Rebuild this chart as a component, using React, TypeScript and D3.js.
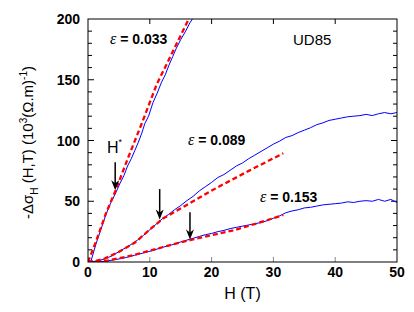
import React from 'react';
import * as d3 from 'd3';

// measured curves, eps = 0.033
const h033 = [0, 0.5, 1.3, 2.1, 2.9, 3.7, 4.5, 5.2, 5.8, 6.4, 7.0, 7.6, 8.1, 8.7, 9.2, 9.8, 10.5, 11.2, 11.9, 12.5, 13.1, 13.7, 14.3, 15.0, 15.8, 16.5, 17.3, 18.0];
const v033 = [0, 1, 15, 27, 39, 49, 57, 65, 71, 79, 85, 92, 98, 106, 114, 120, 131, 139, 148, 154, 162, 169, 176, 183, 190, 197, 203, 210];
// eps = 0.089
const h089 = [0, 1, 2, 3, 4, 5, 6, 7, 8, 9, 10, 11, 12, 13, 14, 15, 16, 17, 18, 19, 20, 21, 22, 23, 24, 25, 26, 27, 28, 29, 30, 31, 32, 33, 34, 35, 36, 37, 38, 39, 40, 41, 42, 43, 44, 45, 46, 47, 48, 49, 50];
const v089 = [0, 0.5, 1.5, 3, 5.5, 8.5, 11.5, 14.5, 18, 22, 26.5, 31, 35.5, 39, 43, 46.5, 50.5, 54, 58.5, 62, 65.5, 69.5, 72, 75.5, 79, 81.5, 85, 88, 91, 94, 97, 99.5, 102.5, 104, 106.5, 108.5, 110.5, 113, 114.5, 116.5, 117.5, 118.5, 119.5, 120, 120.5, 121.5, 120.5, 122, 123, 122, 123];
// eps = 0.153
const h153 = [0, 1.8, 3, 4.5, 6, 7.5, 9, 10.5, 12, 13.5, 15, 16, 17, 18, 19, 20, 21, 22, 23, 24, 25, 26, 27, 28, 29, 30, 31, 32, 33, 34, 35, 36, 37, 38, 39, 40, 41, 42, 43, 44, 45, 46, 47, 48, 49, 50];
const v153 = [0, 0, 0.8, 2, 3.5, 5.5, 7.5, 9.5, 12, 14, 16.5, 18, 19.5, 21, 22.5, 23.5, 25, 26, 27.5, 28.5, 29.5, 30.5, 31.5, 32.5, 34, 36, 38, 40.5, 42, 43, 44.5, 45, 46, 47, 47.5, 48, 48.5, 49.5, 49, 50, 50.5, 50, 51.5, 50, 51.5, 49];

// fits (red dashed)
const hFit033 = [0, 1.3, 2.9, 4.4, 6.5, 8.7, 11.1, 13.8, 16.3, 17.0];
const vFit033 = [0, 17, 40, 58, 86, 114, 146, 174, 200, 207];
const hFit089 = [0, 1, 2.75, 4.9, 7.6, 10.3, 12.2, 16, 20.8, 26, 31.6];
const vFit089 = [0, 0.5, 3, 8, 16, 28, 36, 47, 61, 75, 89.5];
const hFit153 = [0, 3, 6.8, 10, 13, 16.5, 20, 23.5, 27.5, 31.6];
const vFit153 = [0, 1, 5, 9.3, 13.5, 18, 22, 26, 32, 38.7];

// H* arrows
const arrowH = [4.4, 11.6, 16.5];
const arrowTip = [59, 35, 18.5];
const arrowTail = [82, 60, 41];

const xTicks = [0, 10, 20, 30, 40, 50];
const yTicks = [0, 50, 100, 150, 200];
const yMinor = d3.range(0, 201, 10);

const W = 414;
const H = 312;
const m = { left: 88, right: 397, top: 19, bottom: 262 };

const x = d3.scaleLinear().domain([0, 50]).range([m.left, m.right]);
const y = d3.scaleLinear().domain([0, 200]).range([m.bottom, m.top]);

const toPts = (hs: number[], vs: number[]) => hs.map((h, i) => [h, vs[i]] as [number, number]);
const line = d3.line<[number, number]>().x(d => x(d[0])).y(d => y(d[1]));

const blue = [toPts(h033, v033), toPts(h089, v089), toPts(h153, v153)];
const red = [toPts(hFit033, vFit033), toPts(hFit089, vFit089), toPts(hFit153, vFit153)];

const sans = 'Arial, "Liberation Sans", Helvetica, sans-serif';
const serif = '"Times New Roman", "Liberation Serif", serif';

const EpsLabel = ({ px, py, val }: { px: number; py: number; val: string }) => (
  <text x={px} y={py} fontFamily={sans} fontSize={14}>
    <tspan fontFamily={serif} fontStyle="italic" fontSize={16}>ε</tspan>
    <tspan fontWeight="bold"> = {val}</tspan>
  </text>
);

export default function App() {
  return (
    <div style={{ position: 'absolute', left: 0, top: 0 }}>
      <svg width={W} height={H} style={{ display: 'block', background: '#fff' }}>
        <defs>
          <clipPath id="plot">
            <rect x={m.left} y={m.top} width={m.right - m.left} height={m.bottom - m.top} />
          </clipPath>
        </defs>

        {/* ticks */}
        <g stroke="#000" strokeWidth={1}>
          {xTicks.slice(1, -1).map(t => (
            <g key={'xt' + t}>
              <line x1={x(t)} x2={x(t)} y1={m.bottom} y2={m.bottom - 5} stroke="#888" />
              <line x1={x(t)} x2={x(t)} y1={m.top} y2={m.top + 5} />
            </g>
          ))}
          {yMinor.slice(1, -1).map(t => {
            const len = t % 50 === 0 ? 6 : 4;
            return (
              <g key={'yt' + t}>
                <line x1={m.left} x2={m.left + len} y1={y(t)} y2={y(t)} />
                <line x1={m.right} x2={m.right - len} y1={y(t)} y2={y(t)} />
              </g>
            );
          })}
        </g>

        {/* curves */}
        <g clipPath="url(#plot)" fill="none">
          {blue.map((d, i) => (
            <path key={'b' + i} d={line(d) || ''} stroke="#0000ff" strokeWidth={1} />
          ))}
          {red.map((d, i) => (
            <path key={'r' + i} d={line(d) || ''} stroke="#ff0000" strokeWidth={2.3} strokeDasharray="5,3" />
          ))}
        </g>

        {/* H* arrows */}
        {arrowH.map((h, i) => {
          const ax = x(h);
          const tip = y(arrowTip[i]);
          const tail = y(arrowTail[i]);
          return (
            <g key={'a' + i}>
              <line x1={ax} x2={ax} y1={tail} y2={tip - 6} stroke="#000" strokeWidth={1.5} />
              <path d={`M${ax},${tip} L${ax - 4},${tip - 10} L${ax},${tip - 7} L${ax + 4},${tip - 10} Z`} fill="#000" />
            </g>
          );
        })}

        {/* frame */}
        <rect x={m.left} y={m.top} width={m.right - m.left} height={m.bottom - m.top} fill="none" stroke="#000" strokeWidth={1} />

        {/* tick labels */}
        <g fontFamily={sans} fontSize={14} fontWeight="bold" fill="#000">
          {xTicks.map(t => (
            <text key={'xl' + t} x={x(t)} y={277} textAnchor="middle">{t}</text>
          ))}
          {yTicks.map(t => (
            <text key={'yl' + t} x={80} y={y(t) + 5} textAnchor="end">{t}</text>
          ))}
        </g>

        {/* axis titles */}
        <text x={x(25)} y={299} textAnchor="middle" fontFamily={sans} fontSize={16}>H (T)</text>
        <text transform={`translate(33,${(m.top + m.bottom) / 2 + 2}) rotate(-90)`} textAnchor="middle" fontFamily={sans} fontSize={15}>
          -Δσ<tspan fontSize={10} dy={5}>H</tspan>
          <tspan dy={-5}> (H,T) (10</tspan>
          <tspan fontSize={10} dy={-6}>3</tspan>
          <tspan dy={6}>(Ω.m)</tspan>
          <tspan fontSize={10} dy={-6}>-1</tspan>
          <tspan dy={6}>)</tspan>
        </text>

        {/* annotations */}
        <EpsLabel px={110} py={44} val="0.033" />
        <EpsLabel px={188} py={145} val="0.089" />
        <EpsLabel px={260} py={202} val="0.153" />
        <text x={293} y={45} fontFamily={sans} fontSize={15}>UD85</text>
        <text x={107} y={153} fontFamily={sans} fontSize={16}>
          H<tspan fontSize={9} dy={-8}>*</tspan>
        </text>
      </svg>
    </div>
  );
}
